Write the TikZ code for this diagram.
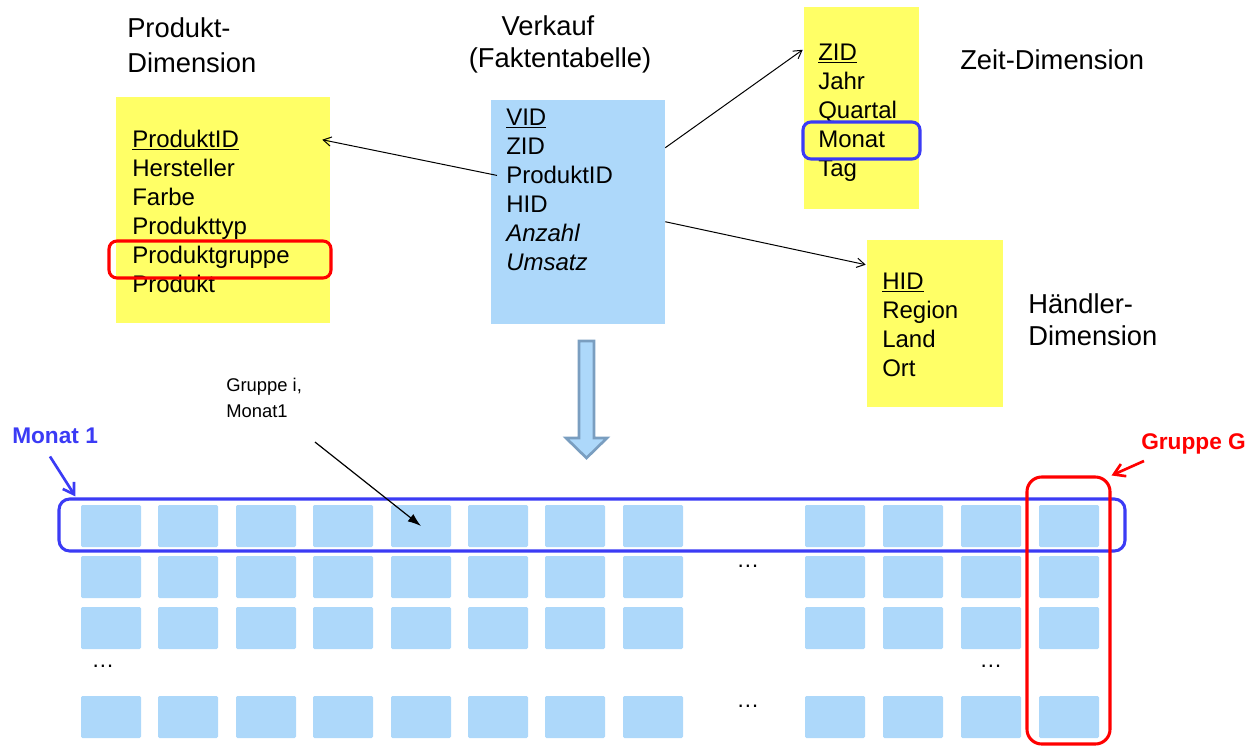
\documentclass[tikz,border=0pt]{standalone}
\usepackage{fontspec}
\setmainfont{Liberation Sans}
\usetikzlibrary{arrows.meta,calc,fit}
\definecolor{ylw}{RGB}{255,255,102}
\definecolor{lblue}{RGB}{173,216,250}
\definecolor{mblue}{RGB}{59,59,245}
\definecolor{arrbord}{RGB}{122,158,192}
\begin{document}
\begin{tikzpicture}[x=0.75pt,y=-0.75pt,
  ybox/.style={fill=ylw,inner sep=0,draw=none},
  bbox/.style={fill=lblue,inner sep=0,draw=none},
  rowtxt/.style={anchor=base west,inner sep=0,font=\fontsize{18}{21.75}\selectfont},
  ttl/.style={inner sep=0,font=\fontsize{20.5}{26}\selectfont},
  boldlab/.style={inner sep=0,font=\fontsize{17}{20}\selectfont\bfseries},
  cell/.style={fill=lblue,minimum width=45pt,minimum height=31.5pt,inner sep=0,rounded corners=1pt},
  dotstxt/.style={anchor=base,inner sep=0,font=\fontsize{17}{20}\selectfont},
  thinarr/.style={draw=black,line width=0.75pt,-{Straight Barb[length=6pt,width=7pt]}},
  hl/.style={line width=2.3pt,rounded corners=6pt,inner sep=0},
]
\useasboundingbox (0,0) rectangle (1253,746);

% boxes
\node[ybox,fit={(116,97)(330,323)}] (pbox) {};
\node[bbox,fit={(491,100)(665,324)}] (fbox) {};
\node[ybox,fit={(804,7)(919,209)}] (zbox) {};
\node[ybox,fit={(867,240)(1003,407)}] (hbox) {};

% titles
\node[ttl,anchor=base west] (t1a) at (127,37) {Produkt-};
\node[ttl,anchor=base west] (t1b) at (127,72) {Dimension};
\node[ttl,anchor=base] (t2a) at (548,36) {Verkauf};
\node[ttl,anchor=base] (t2b) at (560,67) {(Faktentabelle)};
\node[ttl,anchor=base west] (t3) at (960,69) {Zeit-Dimension};
\node[ttl,anchor=base west] (t4a) at (1028,313) {Händler-};
\node[ttl,anchor=base west] (t4b) at (1028,345) {Dimension};

% Produkt box
\node[rowtxt] (p1) at (132,147) {\underline{ProduktID}};
\node[rowtxt] (p2) at (132,176) {Hersteller};
\node[rowtxt] (p3) at (132,205) {Farbe};
\node[rowtxt] (p4) at (132,234) {Produkttyp};
\node[rowtxt] (p5) at (132,263) {Produktgruppe};
\node[rowtxt] (p6) at (132,292) {Produkt};
\node[draw=red,hl,fit={(109,241)(331,278)}] (pg) {};

% Fakt box
\node[rowtxt] (f1) at (506,125) {\underline{VID}};
\node[rowtxt] (f2) at (506,154) {ZID};
\node[rowtxt] (f3) at (506,183) {ProduktID};
\node[rowtxt] (f4) at (506,212) {HID};
\node[rowtxt] (f5) at (506,241) {\itshape Anzahl};
\node[rowtxt] (f6) at (506,270) {\itshape Umsatz};

% Zeit box
\node[rowtxt] (z1) at (818,60) {\underline{ZID}};
\node[rowtxt] (z2) at (818,89) {Jahr};
\node[rowtxt] (z3) at (818,118) {Quartal};
\node[rowtxt] (z4) at (818,147) {Monat};
\node[rowtxt] (z5) at (818,176) {Tag};
\node[draw=mblue,hl,fit={(803,122)(920,159)}] (zm) {};

% Haendler box
\node[rowtxt] (h1) at (882,289) {\underline{HID}};
\node[rowtxt] (h2) at (882,318) {Region};
\node[rowtxt] (h3) at (882,347) {Land};
\node[rowtxt] (h4) at (882,376) {Ort};

% connectors top
\draw[thinarr] ($(f3.west)+(-9,1)$) -- ($(pbox.north east)+(-8,43)$);
\draw[thinarr] ($(fbox.north east)+(0,48)$) -- ($(zbox.north west)+(-1,43)$);
\draw[thinarr] ($(fbox.north east)+(0,122)$) -- ($(hbox.north west)+(-1,25)$);

% big down arrow
\draw[fill=lblue,draw=arrbord,line width=2pt,line join=miter]
  (579,341) -- (594,341) -- (594,438) -- (607,438) -- (586.5,458) -- (566,438) -- (579,438) -- cycle;

% grid
\foreach \c/\x in {1/81,2/158,3/236,4/313,5/391,6/468,7/545,8/623,9/805,10/883,11/961,12/1039}
  \foreach \r/\y in {1/505,2/556,3/607,4/696}
    \node[cell] (c-\r-\c) at (\x+30,\y+21) {};

% dots
\node[dotstxt] (d1) at (748,567) {\ldots};
\node[dotstxt] (d2) at (103,667) {\ldots};
\node[dotstxt] (d3) at (991,667) {\ldots};
\node[dotstxt] (d4) at (748,707) {\ldots};

% highlight rectangles
\node[draw=mblue,hl,rounded corners=8pt,fit={(59,499)(1125,551)}] (mrow) {};
\node[draw=red,hl,rounded corners=11pt,fit={(1027,477)(1110,744)}] (grp) {};

% labels
\node[anchor=north west,align=left,inner sep=0,font=\fontsize{13.8}{19.5}\selectfont] (gi) at (226,378) {Gruppe i,\\Monat1};
\node[boldlab,anchor=base west,text=mblue] (m1) at (12,443) {Monat 1};
\node[boldlab,anchor=base west,text=red] (gg) at (1141,449) {Gruppe G};

\draw[line width=0.9pt,-{Latex[length=10pt,width=7pt]}] ($(gi.south west)+(89,24)$) -- (c-1-5.center);
\draw[mblue,line width=2pt,-{Straight Barb[length=8pt,width=10pt]}] ($(m1.south west)+(38,13)$) -- ($(mrow.north west)+(18,-1)$);
\draw[red,line width=2pt,-{Straight Barb[length=8pt,width=10pt]}] ($(gg.south west)+(3,7)$) -- (grp.north east);
\end{tikzpicture}
\end{document}
